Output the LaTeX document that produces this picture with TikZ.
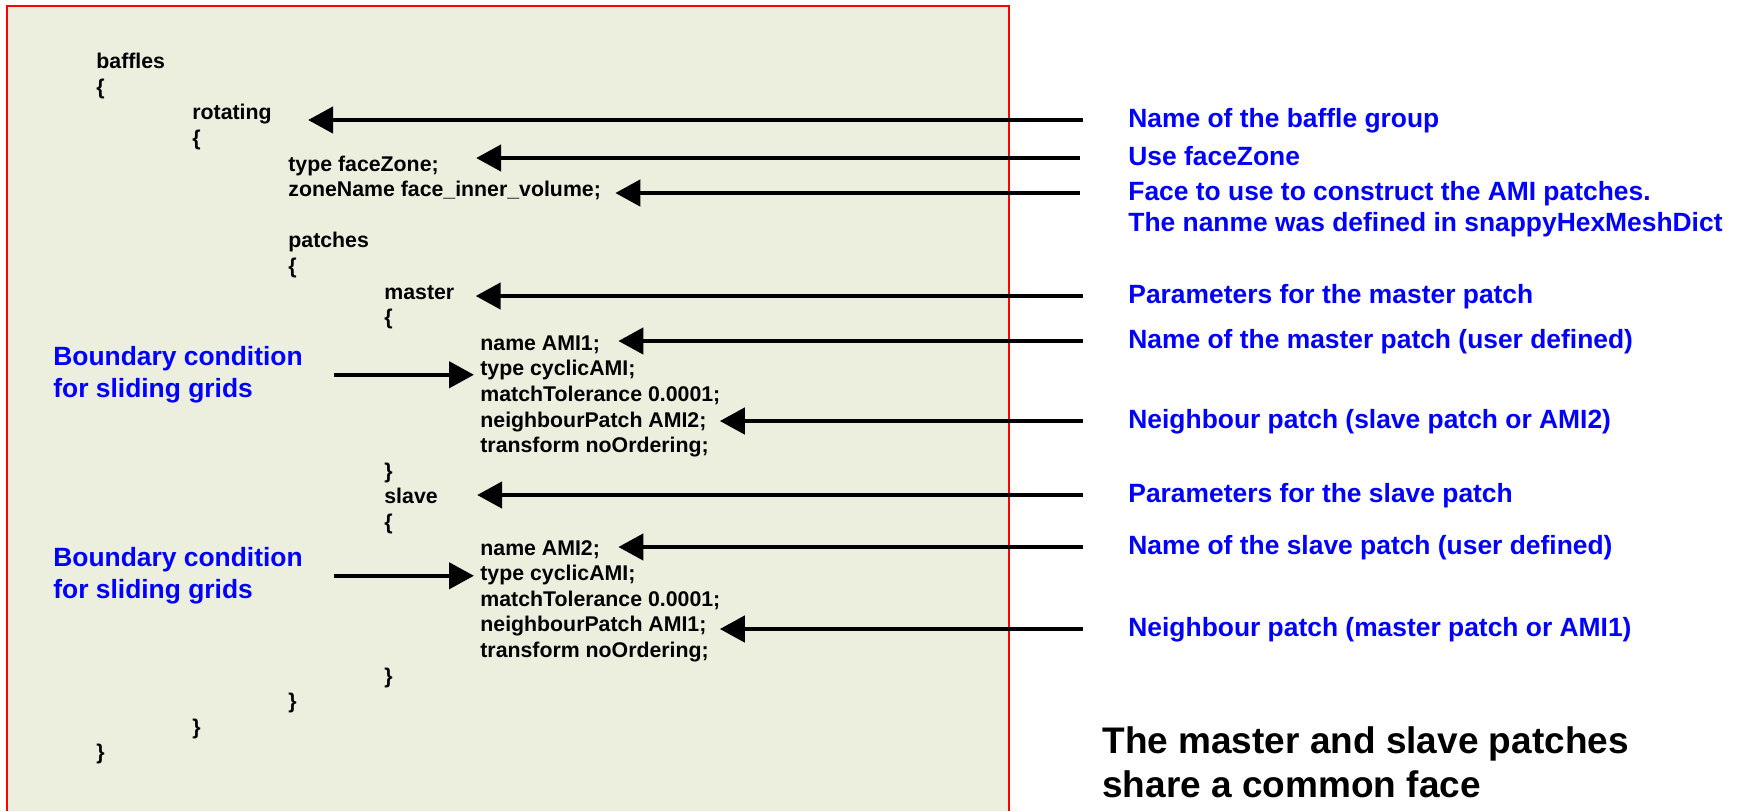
\documentclass[tikz,border=0pt]{standalone}
\usepackage{fontspec}
\setmainfont{Liberation Sans}
\usetikzlibrary{arrows.meta,positioning}

\definecolor{codebg}{RGB}{236,239,222}
\definecolor{notecol}{RGB}{0,0,255}

\tikzset{
  code/.style={anchor=west, inner sep=0pt, text height=8pt, text depth=2.35pt,
    font=\fontsize{10.65pt}{12.8pt}\selectfont\bfseries},
  note/.style={anchor=west, inner sep=0pt, text height=9.9pt, text depth=2.9pt,
    text=notecol, font=\fontsize{13.2pt}{16pt}\selectfont\bfseries},
  bcnote/.style={anchor=north west, inner sep=0pt, align=left,
    text=notecol, font=\fontsize{13.2pt}{16pt}\selectfont\bfseries},
  bigarrow/.style={-{Triangle[length=12.5pt,width=13pt]}, line width=2.25pt},
}

\begin{document}
\begin{tikzpicture}[x=0.5pt, y=-0.5pt]
    \useasboundingbox (0,0) rectangle (1741,811);

    % Dictionary panel
    \fill[codebg] (7,6) rectangle (1009,811);
    \draw[red, line width=1pt] (7,811) -- (7,6) -- (1009,6) -- (1009,811);

    % Dictionary entries - one node per line
    \node[code] (baffles) at (96,63) {baffles};
    \node[code] (bafflesopen) at (96,88.6) {\{};
    \node[code] (rotating) at (192,114.2) {rotating};
    \node[code] (rotatingopen) at (192,139.8) {\{};
    \node[code] (typefz) at (288,165.4) {type faceZone;};
    \node[code] (zonename) at (288,191) {zoneName face\_inner\_volume;};
    \node[code] (patches) at (288,242.2) {patches};
    \node[code] (patchesopen) at (288,267.8) {\{};
    \node[code] (master) at (384,293.4) {master};
    \node[code] (masteropen) at (384,319) {\{};
    \node[code] (namemaster) at (480,344.6) {name AMI1;};
    \node[code] (typemaster) at (480,370.2) {type cyclicAMI;};
    \node[code] (tolmaster) at (480,395.8) {matchTolerance 0.0001;};
    \node[code] (neighmaster) at (480,421.4) {neighbourPatch AMI2;};
    \node[code] (transmaster) at (480,447) {transform noOrdering;};
    \node[code] (masterclose) at (384,472.6) {\}};
    \node[code] (slave) at (384,498.2) {slave};
    \node[code] (slaveopen) at (384,523.8) {\{};
    \node[code] (nameslave) at (480,549.4) {name AMI2;};
    \node[code] (typeslave) at (480,575) {type cyclicAMI;};
    \node[code] (tolslave) at (480,600.6) {matchTolerance 0.0001;};
    \node[code] (neighslave) at (480,626.2) {neighbourPatch AMI1;};
    \node[code] (transslave) at (480,651.8) {transform noOrdering;};
    \node[code] (slaveclose) at (384,677.4) {\}};
    \node[code] (patchesclose) at (288,703) {\}};
    \node[code] (rotatingclose) at (192,728.6) {\}};
    \node[code] (bafflesclose) at (96,754.2) {\}};

    % Explanations on the right
    \node[note] (nbafflegroup) at (1128,120) {Name of the baffle group};
    \node[note] (nfacezone) at (1128,158) {Use faceZone};
    \node[note] (nfaceuse) at (1128,193) {Face to use to construct the AMI patches.};
    \node[note, below=2.7pt of nfaceuse.south west, anchor=north west] (nfacename) {The nanme was defined in snappyHexMeshDict};
    \node[note] (nmaster) at (1128,296) {Parameters for the master patch};
    \node[note] (nmastername) at (1128,341) {Name of the master patch (user defined)};
    \node[note] (nneighslave) at (1128,421) {Neighbour patch (slave patch or AMI2)};
    \node[note] (nslave) at (1128,495) {Parameters for the slave patch};
    \node[note] (nslavename) at (1128,547) {Name of the slave patch (user defined)};
    \node[note] (nneighmaster) at (1128,629) {Neighbour patch (master patch or AMI1)};

    % Boundary condition remarks on the left
    \node[bcnote] (bcmaster) at (53,346) {Boundary condition\\for sliding grids};
    \node[bcnote] (bcslave) at (53,547) {Boundary condition\\for sliding grids};

    % Closing remark
    \node[anchor=north west, inner sep=0pt, align=left,
          font=\fontsize{18.5pt}{22pt}\selectfont\bfseries] (shareface) at (1102,726)
          {The master and slave patches\\share a common face};

    % Arrows pointing into the dictionary
    \draw[bigarrow] ([xshift=-22.5pt]nbafflegroup.west) -- ([xshift=18pt]nbafflegroup.west -| rotating.east);
    \draw[bigarrow] ([xshift=-24pt]nfacezone.west) -- ([xshift=18.5pt]nfacezone.west -| typefz.east);
    \draw[bigarrow] ([xshift=-24pt]nfaceuse.west) -- ([xshift=7pt]nfaceuse.west -| zonename.east);
    \draw[bigarrow] ([xshift=-22.5pt]nmaster.west) -- ([xshift=10.5pt]nmaster.west -| master.east);
    \draw[bigarrow] ([xshift=-22.5pt]nmastername.west) -- ([xshift=9pt]nmastername.west -| namemaster.east);
    \draw[bigarrow] ([xshift=-22.5pt]nneighslave.west) -- ([xshift=6.5pt]nneighslave.west -| neighmaster.east);
    \draw[bigarrow] ([xshift=-22.5pt]nslave.west) -- ([xshift=19.5pt]nslave.west -| slave.east);
    \draw[bigarrow] ([xshift=-22.5pt]nslavename.west) -- ([xshift=9pt]nslavename.west -| nameslave.east);
    \draw[bigarrow] ([xshift=-22.5pt]nneighmaster.west) -- ([xshift=6.5pt]nneighmaster.west -| neighslave.east);

    \draw[bigarrow] ([xshift=15.5pt]bcmaster.east) -- ([xshift=-3pt]bcmaster.east -| typemaster.west);
    \draw[bigarrow] ([xshift=15.5pt]bcslave.east) -- ([xshift=-3pt]bcslave.east -| typeslave.west);

\end{tikzpicture}
\end{document}
